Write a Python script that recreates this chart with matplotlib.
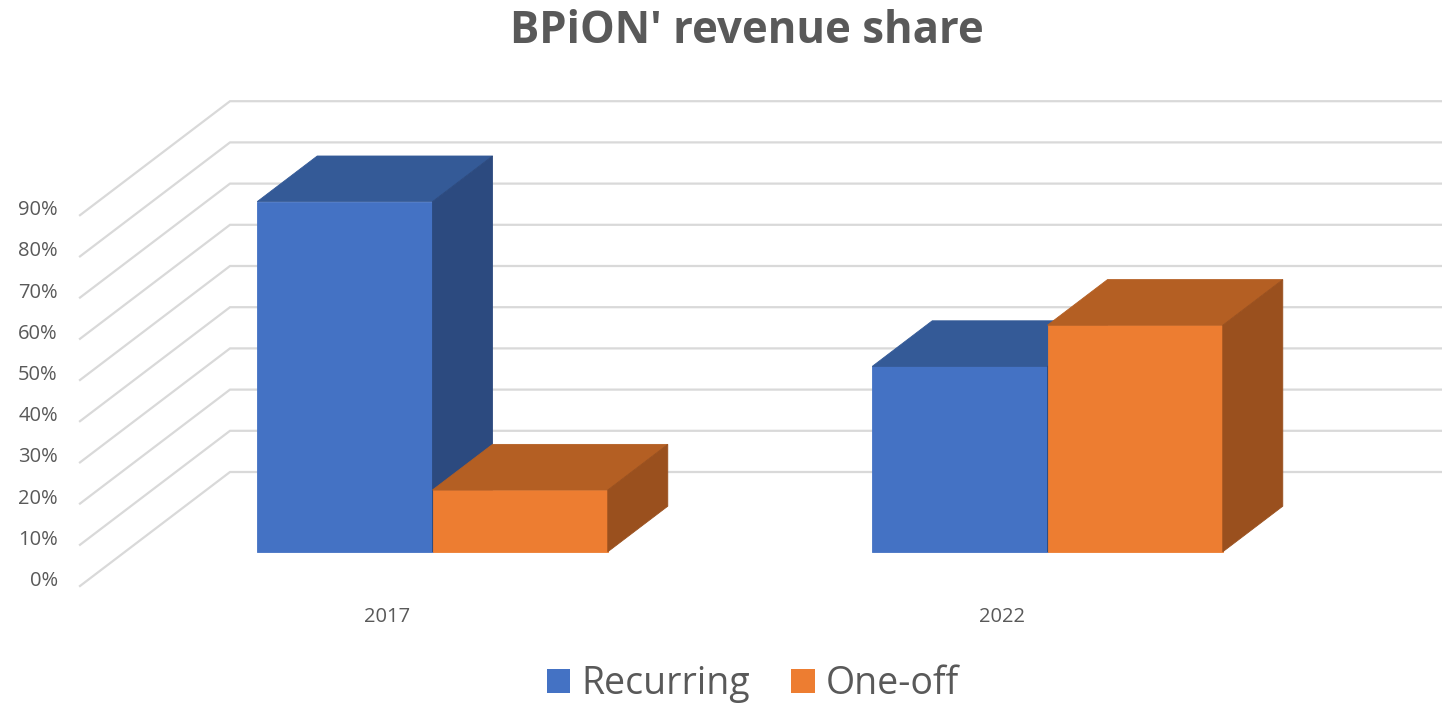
import matplotlib
matplotlib.use('Agg')
import matplotlib.pyplot as plt
from matplotlib.patches import Polygon, Patch

# data
categories = ['2017', '2022']
series_names = ['Recurring', 'One-off']
recurring = [85, 45]
one_off = [15, 55]
y_ticks = [0, 10, 20, 30, 40, 50, 60, 70, 80, 90]
y_tick_labels = ['0%', '10%', '20%', '30%', '40%', '50%', '60%', '70%', '80%', '90%']

front_colors = ['#4472C4', '#ED7D31']
top_colors = ['#345A97', '#B45F23']
side_colors = ['#2C4A7F', '#9A501E']
grey = '#595959'
grid_color = '#D9D9D9'
plt.rcParams['font.family'] = ['Open Sans', 'DejaVu Sans']

W, H = 1442, 707
fig = plt.figure(figsize=(W / 100, H / 100), dpi=100)
ax = fig.add_axes([0, 0, 1, 1])
ax.axis('off')

# layout of the fake 3d box, in pixels
X0, Y0 = 80, 586          # front-left corner at 0%
CAT_PX = 615              # width of one category
PCT_PX = 4.12             # pixels per percent
DEPTH_PX = (150, 114)     # back wall offset

ax.set_xlim(-X0 / CAT_PX, (W - X0) / CAT_PX)
ax.set_ylim((Y0 - H) / PCT_PX, Y0 / PCT_PX)
DX = DEPTH_PX[0] / CAT_PX
DY = DEPTH_PX[1] / PCT_PX


def proj(x, v, d):
    # oblique projection: depth d in [0, 1]
    return (x + d * DX, v + d * DY)


n_cat = len(categories)

# side wall + back wall gridlines
for v in y_ticks:
    p0 = proj(0, v, 0)
    p1 = proj(0, v, 1)
    p2 = proj(n_cat, v, 1)
    ax.plot([p0[0], p1[0], p2[0]], [p0[1], p1[1], p2[1]],
            color=grid_color, lw=1.6, solid_joinstyle='miter', zorder=1)

for v, lab in zip(y_ticks, y_tick_labels):
    ax.annotate(lab, xy=(0, v), xytext=(-16, 0), textcoords='offset points',
                ha='right', va='baseline', fontsize=14.5, color=grey)

for i, c in enumerate(categories):
    ax.annotate(c, xy=(i + 0.5, 0), xytext=(0, -26), textcoords='offset points',
                ha='center', va='baseline', fontsize=14.5, color=grey)

# bars
bar_w = 0.285
d0, d1 = 0.3, 0.7
values = [recurring, one_off]
for i in range(n_cat):
    for j in range(len(series_names)):
        v = values[j][i]
        xl = i + 0.5 - bar_w + j * bar_w
        xr = xl + bar_w
        front = [proj(xl, 0, d0), proj(xr, 0, d0), proj(xr, v, d0), proj(xl, v, d0)]
        top = [proj(xl, v, d0), proj(xr, v, d0), proj(xr, v, d1), proj(xl, v, d1)]
        side = [proj(xr, 0, d0), proj(xr, 0, d1), proj(xr, v, d1), proj(xr, v, d0)]
        for pts, col in [(front, front_colors[j]), (top, top_colors[j]), (side, side_colors[j])]:
            ax.add_patch(Polygon(pts, closed=True, facecolor=col, edgecolor=col,
                                 lw=0.6, zorder=2))

fig.text(747 / W, 1 - 43 / H, "BPiON' revenue share", ha='center', va='baseline',
         fontsize=31.5, fontweight='bold', color=grey)

handles = [Patch(facecolor=c, edgecolor='none') for c in front_colors]
fig.legend(handles, series_names, loc='center', bbox_to_anchor=(753 / W, 1 - 684 / H),
           ncol=2, frameon=False, fontsize=27, labelcolor=grey,
           handlelength=0.62, handleheight=0.62, handletextpad=0.3, columnspacing=1.1)

fig.savefig('out.png', dpi=100, facecolor='white')
